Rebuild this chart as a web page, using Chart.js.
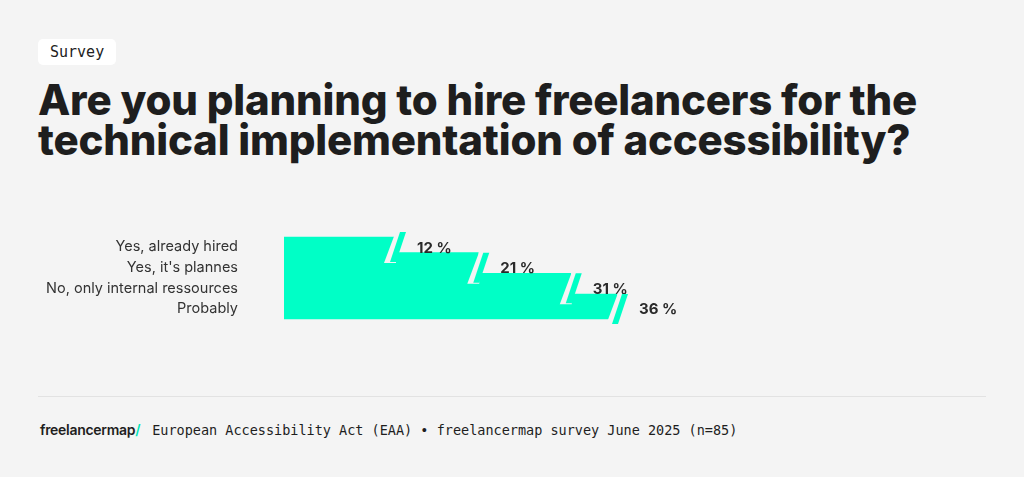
<!DOCTYPE html><html><head><meta charset="utf-8">
<script src="https://cdn.jsdelivr.net/npm/chart.js@4"></script>
<style>
body{margin:0;width:1024px;height:477px;background:#f4f4f4;font-family:Inter,sans-serif;position:relative;overflow:hidden;color:#1e1e1e}
#tag{position:absolute;left:38px;top:39px;background:#fff;border-radius:5px;padding:4px 12px;font-family:"DejaVu Sans Mono",monospace;font-size:15px;color:#222}
h1{position:absolute;left:38px;top:80px;margin:0;font-size:42px;line-height:40px;font-weight:800;letter-spacing:-0.2px}
#c{position:absolute;left:0;top:190px}
#rule{position:absolute;left:38px;right:38px;top:396px;border-top:1px solid #e2e2e2}
#foot{position:absolute;left:40px;top:421px;font-size:14px;white-space:nowrap}
#foot b{font-weight:600;letter-spacing:-0.3px}#foot b i{color:#00e6b8;font-style:normal}
#foot span{font-family:"DejaVu Sans Mono",monospace;font-size:13.5px;margin-left:12px}
</style></head><body>
<div id="tag">Survey</div>
<h1>Are you planning to hire freelancers for the<br>technical implementation of accessibility?</h1>
<canvas id="c" width="1024" height="176"></canvas>
<div id="rule"></div>
<div id="foot"><b>freelancermap<i>/</i></b><span>European Accessibility Act (EAA) • freelancermap survey June 2025 (n=85)</span></div>
<script>
const categories=["Yes, already hired","Yes, it's plannes","No, only internal ressources","Probably"];
const values=[12,21,31,36];
const BG='#f4f4f4',COL='#00ffc6';
const slant={id:'slant',afterDatasetsDraw(ch){const c=ch.ctx;ch.getDatasetMeta(0).data.forEach((b,i)=>{
 const t=b.y-b.height/2,bo=b.y+b.height/2,x=b.x;
 c.save();c.fillStyle=BG;c.beginPath();c.moveTo(x+1,t-1);c.lineTo(x+1,bo+1);c.lineTo(x-11,bo+1);c.closePath();c.fill();
 c.fillStyle=COL;c.beginPath();c.moveTo(x+5,t);c.lineTo(x+11,t);c.lineTo(x+1,bo);c.lineTo(x-5,bo);c.closePath();c.fill();
 c.fillStyle='#2a2a2a';c.font='bold 15px Inter';c.textBaseline='middle';c.fillText(values[i]+' %',x+22,b.y+1);c.restore();});}};
new Chart(document.getElementById('c'),{type:'bar',data:{labels:categories,datasets:[{data:values,backgroundColor:COL,barThickness:30}]},
options:{indexAxis:'y',responsive:false,animation:false,layout:{padding:{top:0,bottom:0,right:0}},
plugins:{legend:{display:false},tooltip:{enabled:false}},
scales:{x:{display:false,min:0,max:80},y:{grid:{display:false},border:{display:false},
ticks:{color:'#333',font:{family:'Inter',size:14.5},padding:38},afterFit(a){a.width=284;}}}},plugins:[slant]});
</script></body></html>
